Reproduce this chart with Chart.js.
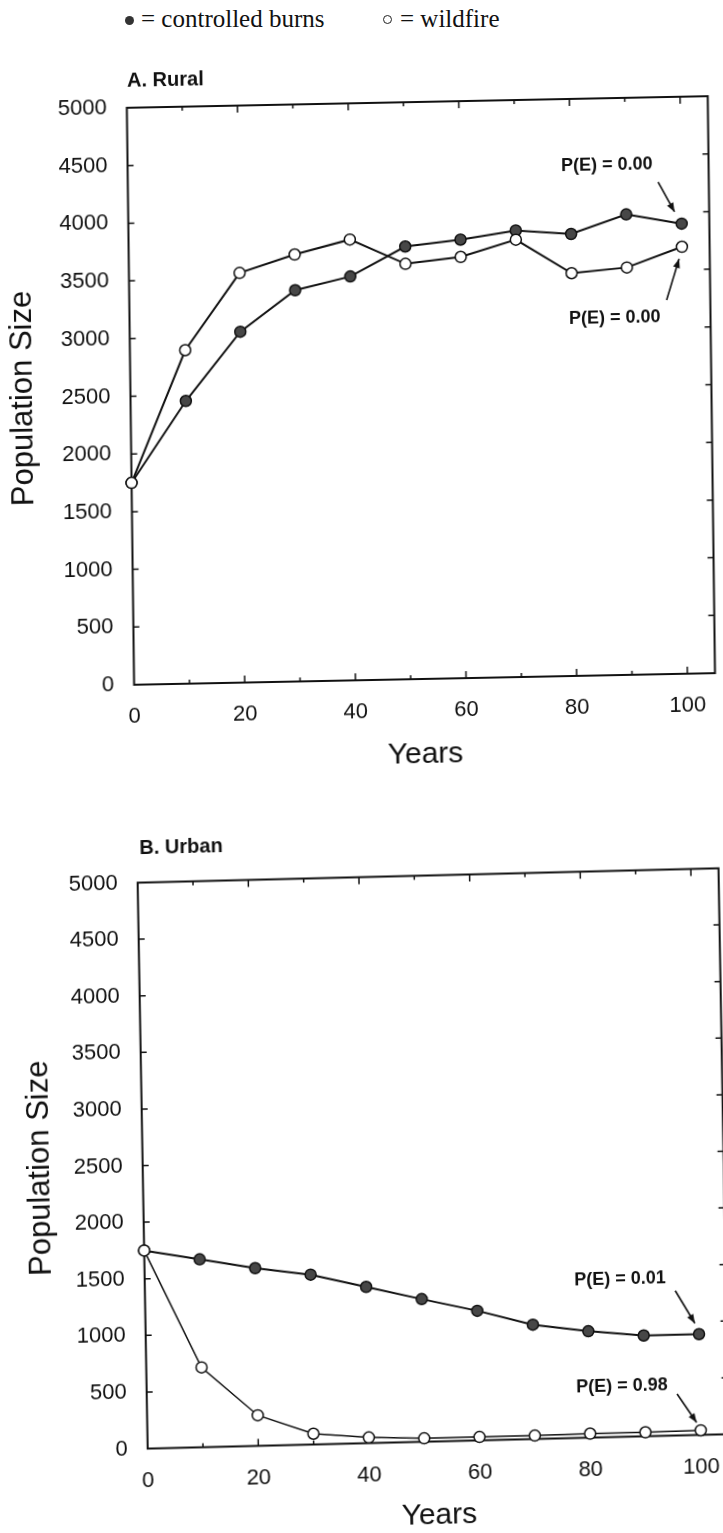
<!DOCTYPE html>
<html>
<head>
<meta charset="utf-8">
<script src="https://cdn.jsdelivr.net/npm/chart.js@4.4.1/dist/chart.umd.min.js"></script>
<style>
  html, body { margin: 0; padding: 0; background: #fff; }
  body { width: 723px; height: 1533px; overflow: hidden; position: relative; color: #111; }
  .legend { position: absolute; top: 6px; font: 25px/1 "Liberation Serif", "Times New Roman", serif; white-space: nowrap; }
  .dot { position: absolute; width: 9px; height: 9px; border-radius: 50%; box-sizing: border-box; }
  .panel { position: absolute; left: 0; width: 740px; }
  .panel canvas { position: absolute; left: 0; top: 0; }
  .ptitle { position: absolute; font: bold 20px/1 "Liberation Sans", Arial, sans-serif; white-space: nowrap; }
</style>
</head>
<body>
<div class="dot" style="left:125px; top:16px; background:#333;"></div>
<div class="legend" style="left:141px;">= controlled burns</div>
<div class="dot" style="left:383px; top:15px; border:1.3px solid #222; background:#fff;"></div>
<div class="legend" style="left:400px;">= wildfire</div>

<div class="panel" style="top:60px; height:720px; transform-origin:421px 330.5px; transform:matrix(1,-0.020,0.0126,1,0,0);">
  <canvas id="chartA" width="740" height="720"></canvas>
  <div class="ptitle" style="left:131px; top:4px;">A. Rural</div>
</div>
<div class="panel" style="top:820px; height:722px; transform-origin:433px 338.5px; transform:matrix(1,-0.0248,0.0177,1,0,0);">
  <canvas id="chartB" width="740" height="722"></canvas>
  <div class="ptitle" style="left:145px; top:10px;">B. Urban</div>
</div>

<script>
// years sampled every 10
const years = [0, 10, 20, 30, 40, 50, 60, 70, 80, 90, 100];

// A. Rural
const ruralBurns = [1750, 2450, 3040, 3390, 3500, 3750, 3800, 3870, 3830, 3990, 3900];
const ruralWildfire = [1750, 2890, 3550, 3700, 3820, 3600, 3650, 3790, 3490, 3530, 3700];

// B. Urban
const urbanBurns = [1750, 1660, 1570, 1500, 1380, 1260, 1145, 1010, 940, 890, 890];
const urbanWildfire = [1750, 705, 270, 95, 50, 30, 30, 30, 35, 35, 40];

const xTickValues = [0, 20, 40, 60, 80, 100];
const xMinorTicks = [10, 20, 30, 40, 50, 60, 70, 80, 90, 100];
const yTickValues = [500, 1000, 1500, 2000, 2500, 3000, 3500, 4000, 4500];

Chart.defaults.font.family = '"Liberation Sans", Arial, sans-serif';
Chart.defaults.color = '#111';

// box round the plot with inward ticks on all four sides
const framePlugin = {
  id: 'frame',
  beforeDatasetsDraw(chart) {
    const { ctx, chartArea: a, scales: { x, y } } = chart;
    ctx.save();
    ctx.strokeStyle = '#111';
    ctx.lineWidth = 2;
    ctx.strokeRect(a.left, a.top, a.right - a.left, a.bottom - a.top);
    ctx.lineWidth = 1.5;
    ctx.beginPath();
    yTickValues.forEach(v => {
      const py = y.getPixelForValue(v);
      ctx.moveTo(a.left, py); ctx.lineTo(a.left + 6, py);
      ctx.moveTo(a.right, py); ctx.lineTo(a.right - 6, py);
    });
    xMinorTicks.forEach(v => {
      const px = x.getPixelForValue(v);
      const len = v % 20 === 0 ? 7 : 4;
      ctx.moveTo(px, a.bottom); ctx.lineTo(px, a.bottom - len);
      ctx.moveTo(px, a.top); ctx.lineTo(px, a.top + len);
    });
    ctx.stroke();
    ctx.restore();
  }
};

// P(E) labels with arrows pointing at the last point
const notePlugin = {
  id: 'notes',
  afterDatasetsDraw(chart, args, opts) {
    const { ctx, scales: { x, y } } = chart;
    ctx.save();
    ctx.fillStyle = '#111';
    ctx.strokeStyle = '#111';
    ctx.font = 'bold 18px "Liberation Sans", Arial, sans-serif';
    ctx.textAlign = 'center';
    ctx.textBaseline = 'middle';
    (opts.items || []).forEach(n => {
      const i = n.series.length - 1;
      const px = x.getPixelForValue(years[i]);
      const py = y.getPixelForValue(n.series[i]);
      ctx.fillText(n.text, px + n.tx, py + n.ty);
      const x0 = px + n.from[0], y0 = py + n.from[1];
      const x1 = px + n.to[0], y1 = py + n.to[1];
      ctx.lineWidth = 1.6;
      ctx.beginPath();
      ctx.moveTo(x0, y0);
      ctx.lineTo(x1, y1);
      ctx.stroke();
      const ang = Math.atan2(y1 - y0, x1 - x0);
      ctx.beginPath();
      ctx.moveTo(x1, y1);
      ctx.lineTo(x1 - 9 * Math.cos(ang) + 3.5 * Math.sin(ang), y1 - 9 * Math.sin(ang) - 3.5 * Math.cos(ang));
      ctx.lineTo(x1 - 9 * Math.cos(ang) - 3.5 * Math.sin(ang), y1 - 9 * Math.sin(ang) + 3.5 * Math.cos(ang));
      ctx.closePath();
      ctx.fill();
    });
    ctx.restore();
  }
};

function buildChart(id, burns, wildfire, lay, notes) {
  return new Chart(document.getElementById(id), {
    type: 'line',
    data: {
      datasets: [
        {
          label: 'wildfire',
          data: years.map((yr, i) => ({ x: yr, y: wildfire[i] })),
          borderColor: '#111',
          borderWidth: lay.openLine,
          pointRadius: 5.5,
          pointBackgroundColor: '#fff',
          pointBorderColor: '#111',
          pointBorderWidth: 1.5,
          tension: 0,
          clip: false
        },
        {
          label: 'controlled burns',
          data: years.map((yr, i) => ({ x: yr, y: burns[i] })),
          borderColor: '#111',
          borderWidth: 2,
          pointRadius: 5.5,
          pointBackgroundColor: '#474747',
          pointBorderColor: '#111',
          pointBorderWidth: 1.5,
          tension: 0,
          clip: false
        }
      ]
    },
    options: {
      responsive: false,
      animation: false,
      events: [],
      layout: { padding: { left: 0, top: lay.top, right: lay.right, bottom: 0 } },
      plugins: {
        legend: { display: false },
        tooltip: { enabled: false },
        notes: { items: notes }
      },
      scales: {
        x: {
          type: 'linear',
          min: 0,
          max: 105,
          grid: { display: false },
          border: { display: false },
          afterBuildTicks: s => { s.ticks = xTickValues.map(v => ({ value: v })); },
          afterFit: s => { s.height = lay.xHeight; },
          ticks: { padding: 11, font: { size: 22 }, maxRotation: 0, autoSkip: false, callback: v => String(v) },
          title: { display: true, text: 'Years', font: { size: 30 }, padding: { top: 0, bottom: lay.xTitlePad } }
        },
        y: {
          min: 0,
          max: 5000,
          grid: { display: false },
          border: { display: false },
          afterFit: s => { s.width = lay.left; },
          ticks: { stepSize: 500, padding: 12, font: { size: 22 }, callback: v => String(v) },
          title: { display: true, text: 'Population Size', font: { size: 31 }, padding: { top: lay.yTitlePad, bottom: 0 } }
        }
      }
    },
    plugins: [framePlugin, notePlugin]
  });
}

buildChart('chartA', ruralBurns, ruralWildfire,
  { top: 42, right: 28.5, left: 130.5, xHeight: 101, xTitlePad: 7, yTitlePad: 5, openLine: 2 },
  [
    { text: 'P(E) = 0.00', series: ruralBurns, tx: -74, ty: -60, from: [-23, -42], to: [-7, -12] },
    { text: 'P(E) = 0.00', series: ruralWildfire, tx: -68, ty: 70, from: [-16, 53], to: [-3, 12] }
  ]);

buildChart('chartB', urbanBurns, urbanWildfire,
  { top: 55.5, right: 16.3, left: 142.7, xHeight: 100.5, xTitlePad: 8.5, yTitlePad: 22, openLine: 1.5 },
  [
    { text: 'P(E) = 0.01', series: urbanBurns, tx: -78, ty: -57, from: [-23, -44], to: [-4, -11] },
    { text: 'P(E) = 0.98', series: urbanWildfire, tx: -78, ty: -46, from: [-23, -37], to: [-4, -8] }
  ]);
</script>
</body>
</html>
